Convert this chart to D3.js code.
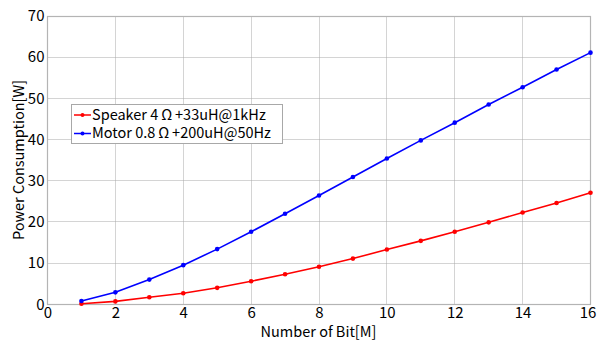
<!DOCTYPE html>
<html><head><meta charset="utf-8">
<script src="https://cdn.jsdelivr.net/npm/d3@7"></script>
<style>body{margin:0;background:#fff}svg{display:block}text{font-family:"Noto Sans CJK JP","Liberation Sans",Arial,sans-serif}</style>
</head><body><svg id="c" width="597" height="342"></svg>
<script>
const bits = [1,2,3,4,5,6,7,8,9,10,11,12,13,14,15,16];
const speaker = [0.15,0.7,1.7,2.7,4.0,5.6,7.3,9.1,11.1,13.3,15.4,17.6,19.9,22.3,24.6,27.1];
const motor = [0.8,2.9,6.0,9.5,13.4,17.6,22.0,26.4,30.9,35.4,39.8,44.1,48.5,52.7,57.0,61.1];
const seriesNames = ["Speaker 4\u2009\u03A9\u2009+33uH@1kHz","Motor 0.8\u2009\u03A9\u2009+200uH@50Hz"];
const seriesColors = ["#ff0000","#0000ff"];
const xTicks = [0,2,4,6,8,10,12,14,16];
const yTicks = [0,10,20,30,40,50,60,70];

const svg = d3.select("#c");
const L=47.5,R=590.5,T=16,B=304.3;
const x = d3.scaleLinear().domain([0,16]).range([L,R]);
const y = d3.scaleLinear().domain([0,70]).range([B,T]);
const pxi = v => Math.round(v - 0.5);

// grid via axes with full-length ticks
const gx = svg.append("g").attr("transform",`translate(0,${pxi(T)+0.5})`)
 .call(d3.axisBottom(x).tickValues(xTicks.slice(1,-1)).tickSize(pxi(B)-pxi(T)).tickFormat(""));
const gy = svg.append("g").attr("transform",`translate(${pxi(L)+0.5},0)`)
 .call(d3.axisRight(y).tickValues(yTicks.slice(1,-1)).tickSize(pxi(R)-pxi(L)).tickFormat(""));
[gx,gy].forEach(a=>{a.select(".domain").remove();
  a.selectAll(".tick line").attr("stroke","#a8a8a8").attr("stroke-width",1).attr("stroke-dasharray","1 1");});
gx.selectAll(".tick").attr("transform",d=>`translate(${pxi(x(d))+0.5},0)`);
gy.selectAll(".tick").attr("transform",d=>`translate(0,${pxi(y(d))+0.5})`);

// frame
svg.append("rect").attr("x",pxi(L)+0.5).attr("y",pxi(T)+0.5).attr("width",pxi(R)-pxi(L)).attr("height",pxi(B)-pxi(T))
 .attr("fill","none").attr("stroke","#b4b4b4").attr("stroke-width",1.2);

// axes
const xa = svg.append("g").attr("transform",`translate(0,${B})`)
 .call(d3.axisBottom(x).tickValues(xTicks).tickSize(0).tickPadding(3));
const ya = svg.append("g").attr("transform",`translate(${L},0)`)
 .call(d3.axisLeft(y).tickValues(yTicks).tickSize(0).tickPadding(3));
[xa,ya].forEach(a=>{a.select(".domain").remove();a.selectAll("text").attr("font-size",15).attr("fill","#000").attr("font-family","Liberation Sans, Arial, sans-serif");});
xa.selectAll("text").filter(d=>d===16).attr("dx",-3);

// labels
svg.append("text").attr("x",318.5).attr("y",337).attr("text-anchor","middle")
 .attr("font-size",14.5).text("Number of Bit[M]");
svg.append("text").attr("transform",`translate(24,160) rotate(-90)`).attr("text-anchor","middle")
 .attr("font-size",14.5).text("Power Consumption[W]");

// lines
const data = [speaker, motor];
const lineGen = d3.line().x((d,i)=>x(bits[i])).y(d=>y(d)).curve(d3.curveLinear);
data.forEach((s,k)=>{
  svg.append("path").datum(s).attr("d",lineGen).attr("fill","none")
   .attr("stroke",seriesColors[k]).attr("stroke-width",1.6);
  svg.selectAll(null).data(s).enter().append("circle")
   .attr("cx",(d,i)=>x(bits[i])).attr("cy",d=>y(d)).attr("r",2.3).attr("fill",seriesColors[k]);
});

// legend
const lg = svg.append("g");
lg.append("rect").attr("x",71.5).attr("y",104.5).attr("width",211).attr("height",39)
 .attr("fill","#fff").attr("stroke","#a8a8a8").attr("stroke-width",1);
seriesNames.forEach((n,k)=>{
  const yy = 115 + k*18.5;
  lg.append("line").attr("x1",74).attr("x2",91).attr("y1",yy).attr("y2",yy)
   .attr("stroke",seriesColors[k]).attr("stroke-width",1.5);
  lg.append("circle").attr("cx",82.5).attr("cy",yy).attr("r",2).attr("fill",seriesColors[k]);
  lg.append("text").attr("x",92).attr("y",yy+4.5).attr("font-size",14.5).text(n);
});
</script></body></html>
